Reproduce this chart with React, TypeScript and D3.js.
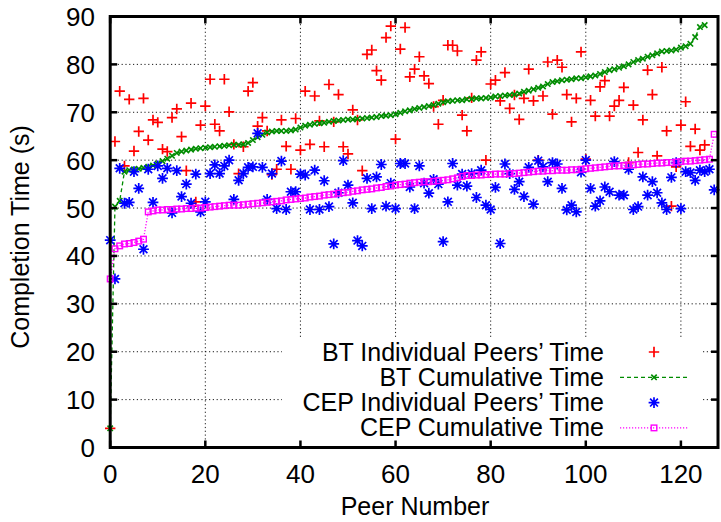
import React from "react";
import * as d3 from "d3";

// ---------- data ----------
const btIndividual: number[] = [
  4, 63.9, 74.4, 58.8, 72.7, 61.9, 66, 72.9, 64.2, 68.4,
  67.9, 62.3, 61.8, 68.9, 70.7, 64.9, 57.8, 71.9, 51.3, 67.3,
  71.3, 76.9, 67.5, 66.1, 76.9, 70.1, 63.3, 57.2, 62.8, 74.4,
  76.2, 67.1, 68.9, 66.1, 57, 58.1, 68.4, 62.9, 58.1, 68.7,
  62.1, 74.4, 63.3, 73.4, 68.2, 62.8, 75.8, 68, 73.7, 62.8,
  61.3, 70.5, 68.4, 57.8, 82.1, 83, 78.7, 76.7, 85.6, 88,
  64.4, 83.2, 87.7, 77.4, 79, 81.6, 77.6, 76, 71.2, 67.5,
  72.5, 84, 84, 82.8, 69.4, 66.1, 73, 80.9, 82.6, 60,
  75.9, 76.7, 72.4, 78.3, 70.8, 73.6, 68.5, 72.9, 79, 72.4,
  60, 73.4, 80.5, 69.6, 80.9, 79.4, 73.7, 68, 72.9, 82.6,
  60.2, 72.5, 69.2, 75.3, 76.6, 69.2, 71.3, 72.5, 75.2, 59.5,
  71.5, 61.6, 68.4, 78.8, 73.7, 60.9, 79.4, 66.1, 50.4, 58.6,
  67.3, 72.2, 62.9, 66.5, 62.1, 63.2,
];

const btCumulative: number[] = [
  4, 50.3, 51.5, 57.6, 57.9, 58.1, 58.2, 58.4, 58.6, 58.9,
  59.3, 59.8, 60.3, 60.9, 61.5, 61.8, 62.0, 62.2, 62.4, 62.5,
  62.6, 62.7, 62.8, 62.9, 63.0, 63.1, 63.2, 63.2, 63.3, 63.6,
  64.2, 64.8, 65.3, 65.8, 66.0, 66.1, 66.1, 66.1, 66.2, 66.4,
  66.8, 67.2, 67.4, 67.6, 67.7, 67.8, 68.0, 68.2, 68.3, 68.4,
  68.5, 68.5, 68.6, 68.7, 68.8, 68.9, 69.0, 69.2, 69.3, 69.4,
  69.6, 69.9, 70.2, 70.4, 70.7, 70.9, 71.1, 71.3, 71.5, 71.8,
  72.1, 72.3, 72.4, 72.5, 72.5, 72.7, 72.8, 72.9, 72.9, 73.0,
  73.1, 73.3, 73.4, 73.5, 73.6, 73.7, 73.9, 74.3, 74.5, 74.8,
  75.1, 75.4, 75.9, 76.3, 76.5, 76.7, 76.8, 76.9, 77.1, 77.1,
  77.3, 77.5, 77.7, 78.0, 78.4, 78.8, 79.0, 79.3, 79.6, 80.0,
  80.5, 80.9, 81.2, 81.6, 81.9, 82.3, 82.7, 82.8, 82.9, 83.1,
  83.5, 83.8, 84.3, 85.7, 87.8, 88.2,
];

const cepIndividual: number[] = [
  43.3, 35.2, 58.3, 51.0, 51.2, 57.6, 54.1, 41.4, 58.1, 51.2,
  58.8, 56.2, 58.3, 49.0, 57.8, 52.4, 55.0, 51.0, 57.1, 49.2,
  51.3, 57.2, 59.0, 57.2, 58.8, 60.0, 51.8, 55.8, 57.2, 58.5,
  58.6, 65.6, 58.5, 51.8, 57.2, 49.9, 59.8, 49.7, 53.4, 53.4,
  57.1, 56.9, 49.7, 57.9, 49.7, 55.7, 50.3, 42.5, 53.2, 59.9,
  54.8, 51.1, 43.2, 42.1, 56.2, 49.9, 56.5, 59.1, 50.4, 55.2,
  49.9, 59.3, 59.3, 54.4, 49.9, 58.8, 55.2, 53.1, 56.0, 55.0,
  43.0, 51.3, 59.3, 54.8, 57.1, 54.6, 57.2, 52.2, 57.9, 50.6,
  49.7, 54.3, 42.6, 59.2, 57.2, 53.9, 55.5, 52.4, 58.5, 50.8,
  59.9, 58.6, 55.5, 59.5, 59.2, 54.1, 49.6, 50.6, 49.2, 57.5,
  60.0, 54.1, 50.4, 51.5, 54.4, 53.4, 59.7, 52.7, 52.7, 58.1,
  49.7, 50.3, 56.5, 52.7, 55.5, 53.2, 51.1, 49.7, 56.4, 59.5,
  49.9, 57.6, 57.4, 55.8, 57.9, 57.6, 58.1, 53.8,
];

const cepCumulative: number[] = [
  35.2, 41.5, 42.1, 42.5, 42.6, 42.8, 43.1, 43.5, 49.2, 49.4,
  49.6, 49.6, 49.7, 49.7, 49.8, 49.8, 49.9, 49.9, 50.0, 50.0,
  50.1, 50.2, 50.3, 50.4, 50.5, 50.6, 50.6, 50.6, 50.7, 50.8,
  50.9, 51.0, 51.1, 51.2, 51.3, 51.4, 51.5, 51.7, 51.8, 51.9,
  52.0, 52.1, 52.3, 52.4, 52.5, 52.7, 52.8, 52.9, 53.1, 53.2,
  53.3, 53.5, 53.6, 53.8, 53.9, 54.0, 54.2, 54.3, 54.5, 54.6,
  54.8, 54.9, 55.0, 55.2, 55.3, 55.4, 55.5, 55.5, 55.6, 55.7,
  55.8, 55.9, 56.1, 56.3, 56.6, 56.8, 56.8, 56.9, 56.9, 57.0,
  57.0, 57.1, 57.1, 57.1, 57.2, 57.2, 57.3, 57.4, 57.5, 57.6,
  57.7, 57.7, 57.8, 57.8, 57.9, 57.9, 57.9, 58.0, 58.0, 58.1,
  58.2, 58.3, 58.4, 58.5, 58.6, 58.7, 58.8, 58.8, 58.9, 59.0,
  59.0, 59.1, 59.2, 59.2, 59.3, 59.4, 59.4, 59.5, 59.5, 59.6,
  59.7, 59.8, 59.8, 59.9, 60.0, 60.1, 60.2, 65.4,
];

const xTicks = [0, 20, 40, 60, 80, 100, 120];
const yTicks = [0, 10, 20, 30, 40, 50, 60, 70, 80, 90];

const legendLabels = [
  "BT Individual Peers\u2019 Time",
  "BT Cumulative Time",
  "CEP Individual Peers\u2019 Time",
  "CEP Cumulative Time",
];

const xLabel = "Peer Number";
const yLabel = "Completion Time (s)";

// ---------- layout ----------
const W = 721;
const H = 522;
const left = 110.2;
const right = 718;
const top = 16.5;
const bottom = 447.5;

const FONT = "'Liberation Sans', Arial, Helvetica, sans-serif";
const RED = "#ff0000";
const GREEN = "#008c00";
const BLUE = "#0000ff";
const MAGENTA = "#ff00ff";

const plusPath = "M-5.2,0H5.2M0,-5.2V5.2";
const starPath = "M-5.4,0H5.4M0,-5.4V5.4M-3.9,-3.9L3.9,3.9M-3.9,3.9L3.9,-3.9";
const crossPath = "M-2.7,-2.7L2.7,2.7M-2.7,2.7L2.7,-2.7";

export default function App() {
  const x = d3.scaleLinear().domain([0, 127.8]).range([left, right]);
  const y = d3.scaleLinear().domain([0, 90]).range([bottom, top]);

  const line = d3
    .line<number>()
    .x((_, i) => x(i))
    .y((d) => y(d));

  // legend geometry
  const legTextX = 604;
  const legRowY = [352, 377.3, 402.6, 427.9];
  const legSampleX1 = 620;
  const legSampleX2 = 689;
  const legMarkX = 654;

  return (
    <svg
      width={W}
      height={H}
      style={{ position: "absolute", left: 0, top: 0, background: "#fff" }}
      fontFamily={FONT}
    >
      <rect x={0} y={0} width={W} height={H} fill="#fff" />

      {/* grid */}
      <g stroke="#000" strokeWidth={0.9} strokeDasharray="1.2,2.6">
        {xTicks
          .filter((t) => t !== 0)
          .map((t) => (
            <line key={"gx" + t} x1={x(t)} x2={x(t)} y1={top} y2={bottom} />
          ))}
        {yTicks
          .filter((t) => t !== 0 && t !== 90)
          .map((t) => (
            <line key={"gy" + t} x1={left} x2={right} y1={y(t)} y2={y(t)} />
          ))}
      </g>

      {/* opaque key box */}
      <rect x={282} y={338} width={421} height={bottom - 338} fill="#fff" />

      {/* BT individual */}
      <g stroke={RED} strokeWidth={1.7} fill="none">
        {btIndividual.map((v, i) => (
          <path key={"r" + i} d={plusPath} transform={`translate(${x(i)},${y(v)})`} />
        ))}
      </g>

      {/* BT cumulative */}
      <path
        d={line(btCumulative) || ""}
        fill="none"
        stroke={GREEN}
        strokeWidth={1.3}
        strokeDasharray="4,3"
      />
      <g stroke={GREEN} strokeWidth={1.6} fill="none">
        {btCumulative.map((v, i) => (
          <path key={"g" + i} d={crossPath} transform={`translate(${x(i)},${y(v)})`} />
        ))}
      </g>

      {/* CEP individual */}
      <g stroke={BLUE} strokeWidth={1.7} fill="none">
        {cepIndividual.map((v, i) => (
          <path key={"b" + i} d={starPath} transform={`translate(${x(i)},${y(v)})`} />
        ))}
      </g>

      {/* CEP cumulative */}
      <path
        d={line(cepCumulative) || ""}
        fill="none"
        stroke={MAGENTA}
        strokeWidth={1.3}
        strokeDasharray="1.2,1.8"
      />
      <g stroke={MAGENTA} strokeWidth={1.4} fill="none">
        {cepCumulative.map((v, i) => (
          <rect key={"m" + i} x={x(i) - 2.8} y={y(v) - 2.8} width={5.6} height={5.6} />
        ))}
      </g>

      {/* legend */}
      <g fontSize={25} fill="#000" textAnchor="end">
        {legendLabels.map((l, i) => (
          <text key={"lt" + i} x={legTextX} y={legRowY[i] + 8.5}>
            {l}
          </text>
        ))}
      </g>
      <path d={plusPath} stroke={RED} strokeWidth={1.7} transform={`translate(${legMarkX},${legRowY[0]})`} />
      <line x1={legSampleX1} x2={legSampleX2} y1={legRowY[1]} y2={legRowY[1]} stroke={GREEN} strokeWidth={1.3} strokeDasharray="4,3" />
      <path d={crossPath} stroke={GREEN} strokeWidth={1.6} transform={`translate(${legMarkX},${legRowY[1]})`} />
      <path d={starPath} stroke={BLUE} strokeWidth={1.7} transform={`translate(${legMarkX},${legRowY[2]})`} />
      <line x1={legSampleX1} x2={legSampleX2} y1={legRowY[3]} y2={legRowY[3]} stroke={MAGENTA} strokeWidth={1.3} strokeDasharray="1.2,1.8" />
      <rect x={legMarkX - 2.8} y={legRowY[3] - 2.8} width={5.6} height={5.6} fill="none" stroke={MAGENTA} strokeWidth={1.4} />

      {/* ticks */}
      <g stroke="#000" strokeWidth={2.5}>
        {xTicks.map((t) => (
          <g key={"tx" + t}>
            <line x1={x(t)} x2={x(t)} y1={bottom} y2={bottom - 7} />
            <line x1={x(t)} x2={x(t)} y1={top} y2={top + 7} />
          </g>
        ))}
        {yTicks.map((t) => (
          <g key={"ty" + t}>
            <line x1={left} x2={left + 7} y1={y(t)} y2={y(t)} />
            <line x1={right} x2={right - 7} y1={y(t)} y2={y(t)} />
          </g>
        ))}
      </g>

      {/* border */}
      <rect
        x={left}
        y={top}
        width={right - left}
        height={bottom - top}
        fill="none"
        stroke="#000"
        strokeWidth={3}
      />

      {/* tick labels */}
      <g fontSize={26} fill="#000">
        {xTicks.map((t) => (
          <text key={"lx" + t} x={x(t)} y={483} textAnchor="middle">
            {t}
          </text>
        ))}
        {yTicks.map((t) => (
          <text key={"ly" + t} x={95} y={y(t) + 9.5} textAnchor="end">
            {t}
          </text>
        ))}
      </g>

      {/* axis labels */}
      <text x={415} y={515} fontSize={25} textAnchor="middle" fill="#000">
        {xLabel}
      </text>
      <text
        transform={`translate(29,237) rotate(-90)`}
        fontSize={25}
        textAnchor="middle"
        fill="#000"
      >
        {yLabel}
      </text>
    </svg>
  );
}
